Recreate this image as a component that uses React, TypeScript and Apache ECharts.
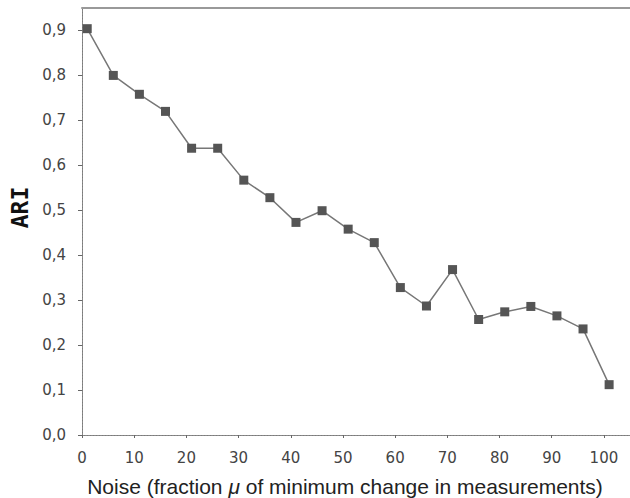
import React, { useEffect, useRef } from "react";
import * as echarts from "echarts";

const noise = [1, 6, 11, 16, 21, 26, 31, 36, 41, 46, 51, 56, 61, 66, 71, 76, 81, 86, 91, 96, 101];
const ari = [0.904, 0.8, 0.758, 0.72, 0.638, 0.638, 0.567, 0.528, 0.473, 0.499, 0.458, 0.428, 0.328, 0.287, 0.368, 0.257, 0.274, 0.286, 0.265, 0.236, 0.112];
const yTicks = [0, 0.1, 0.2, 0.3, 0.4, 0.5, 0.6, 0.7, 0.8, 0.9];
const xTicks = [0, 10, 20, 30, 40, 50, 60, 70, 80, 90, 100];

export default function App() {
  const ref = useRef<HTMLDivElement>(null);
  useEffect(() => {
    if (!ref.current) return;
    const chart = echarts.init(ref.current, null, { renderer: "svg" });
    const font = "'DejaVu Sans', sans-serif";
    const sans = "'Liberation Sans', Arial, sans-serif";
    chart.setOption({
      animation: false,
      backgroundColor: "#fff",
      grid: { left: 82, top: 8, right: 0, bottom: 63, outerBoundsMode: "none", containLabel: false },
      xAxis: [
        {
          type: "value",
          min: 0,
          max: 105,
          position: "bottom",
          offset: 8,
          axisLine: { show: true, lineStyle: { color: "#666", width: 1 } },
          axisTick: { show: true, length: 3, inside: false, customValues: xTicks, lineStyle: { color: "#666" } },
          axisLabel: { customValues: xTicks, color: "#444", fontFamily: font, fontSize: 15, margin: 7 },
          splitLine: { show: false },
          name: "Noise (fraction {i|μ} of minimum change in measurements)",
          nameLocation: "middle",
          nameGap: 33,
          nameTextStyle: {
            color: "#222",
            fontFamily: sans,
            fontSize: 21,
            padding: [0, 22, 0, 0],
            rich: { i: { fontStyle: "italic", fontSize: 21, fontFamily: sans, color: "#222" } },
          },
        },
        {
          type: "value",
          min: 0,
          max: 105,
          position: "bottom",
          offset: 0,
          axisLine: { show: true, lineStyle: { color: "#888", width: 1, type: [2, 1] } },
          axisTick: { show: false },
          axisLabel: { show: false },
          splitLine: { show: false },
        },
        {
          type: "value",
          min: 0,
          max: 105,
          position: "top",
          offset: 0,
          axisLine: { show: true, lineStyle: { color: "#999", width: 2 } },
          axisTick: { show: false },
          axisLabel: { show: false },
          splitLine: { show: false },
        },
      ],
      yAxis: [
        {
          type: "value",
          min: 0,
          max: 0.95,
          position: "left",
          offset: 7,
          axisLine: { show: true, lineStyle: { color: "#666", width: 1 } },
          axisTick: { show: true, length: 4, customValues: yTicks, lineStyle: { color: "#666" } },
          axisLabel: {
            customValues: yTicks,
            color: "#444",
            fontFamily: font,
            fontSize: 15,
            margin: 9,
            formatter: (v: number) => v.toFixed(1).replace(".", ","),
          },
          splitLine: { show: false },
          name: "ARI",
          nameLocation: "middle",
          nameGap: 37,
          nameTextStyle: {
            color: "#111",
            fontFamily: "'DejaVu Sans Mono', monospace",
            fontWeight: "bold",
            fontSize: 23,
            padding: [0, 0, 0, 28],
          },
        },
        {
          type: "value",
          min: 0,
          max: 0.95,
          position: "left",
          offset: 0,
          axisLine: { show: true, lineStyle: { color: "#888", width: 1, type: [2, 1] } },
          axisTick: { show: false },
          axisLabel: { show: false },
          splitLine: { show: false },
        },
      ],
      series: [
        {
          type: "line",
          xAxisIndex: 0,
          yAxisIndex: 0,
          data: noise.map((x, i) => [x, ari[i]]),
          symbol: "rect",
          symbolSize: 9,
          itemStyle: { color: "#555" },
          lineStyle: { color: "#777", width: 1.5 },
        },
      ],
    });
    return () => chart.dispose();
  }, []);
  return <div ref={ref} style={{ position: "fixed", left: 0, top: 0, width: 630, height: 498 }} />;
}
